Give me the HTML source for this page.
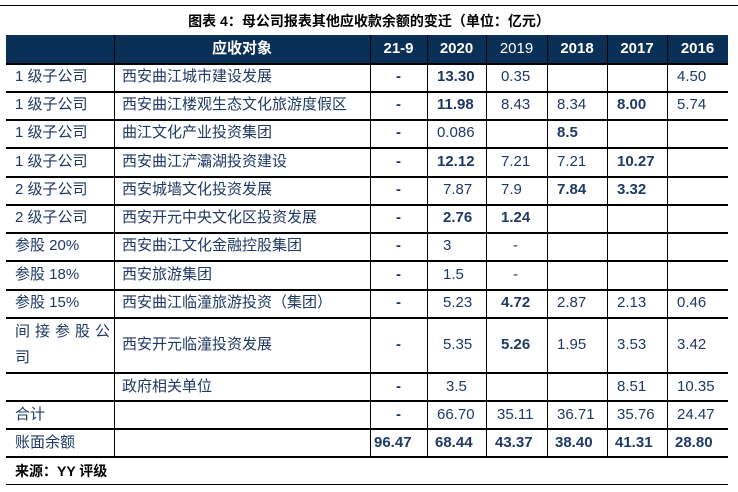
<!DOCTYPE html>
<html><head><meta charset="utf-8"><style>
body{margin:0;width:738px;height:492px;background:#fff;position:relative;overflow:hidden;font-family:"Liberation Sans","Noto Sans CJK SC",sans-serif;color:#1f3864;}
.hl{position:absolute;left:6px;width:722px;height:2px;background:#000;}
.vl{position:absolute;width:1px;background:#000;}
.t{position:absolute;font-size:15px;line-height:18px;white-space:nowrap;}
.b{font-weight:bold;}
.hdr{position:absolute;left:6px;top:35px;width:722px;height:28px;background:#0b3058;}
.h{position:absolute;top:40px;color:#fff;font-size:15px;font-weight:bold;text-align:center;line-height:18px;}
</style></head><body>
<div style="position:absolute;left:0;top:5px;width:738px;height:1px;background:#000"></div>
<div class="t b" style="left:0;width:738px;text-align:center;top:12px;color:#000;font-size:14px">图表 4：母公司报表其他应收款余额的变迁（单位：亿元）</div>
<div class="hdr"></div>
<div class="vl" style="left:114px;top:35px;height:422px"></div>
<div class="vl" style="left:370px;top:35px;height:422px"></div>
<div class="vl" style="left:427px;top:35px;height:422px"></div>
<div class="vl" style="left:486px;top:35px;height:422px"></div>
<div class="vl" style="left:547px;top:35px;height:422px"></div>
<div class="vl" style="left:607px;top:35px;height:422px"></div>
<div class="vl" style="left:667px;top:35px;height:422px"></div>
<div class="h" style="left:114px;width:256px">应收对象</div>
<div class="h" style="left:370px;width:57px">21-9</div>
<div class="h" style="left:427px;width:59px">2020</div>
<div class="h" style="left:486px;width:61px;font-weight:normal">2019</div>
<div class="h" style="left:547px;width:60px">2018</div>
<div class="h" style="left:607px;width:60px">2017</div>
<div class="h" style="left:667px;width:61px">2016</div>
<div class="hl" style="top:63px"></div>
<div class="hl" style="top:91px"></div>
<div class="hl" style="top:119px"></div>
<div class="hl" style="top:147px"></div>
<div class="hl" style="top:176px"></div>
<div class="hl" style="top:204px"></div>
<div class="hl" style="top:232px"></div>
<div class="hl" style="top:260px"></div>
<div class="hl" style="top:289px"></div>
<div class="hl" style="top:317px"></div>
<div class="hl" style="top:372px"></div>
<div class="hl" style="top:400px"></div>
<div class="hl" style="top:428px"></div>
<div class="hl" style="top:456px"></div>
<div style="position:absolute;left:6px;top:484px;width:722px;height:1px;background:#000"></div>

<div class="t" style="left:15px;top:68px">1 级子公司</div><div class="t" style="left:122px;top:68px">西安曲江城市建设发展</div><div class="t b" style="left:396px;top:68px">-</div><div class="t b" style="left:437px;top:68px">13.30</div><div class="t" style="left:501px;top:68px">0.35</div><div class="t" style="left:677px;top:68px">4.50</div>
<div class="t" style="left:15px;top:96px">1 级子公司</div><div class="t" style="left:122px;top:96px">西安曲江楼观生态文化旅游度假区</div><div class="t b" style="left:396px;top:96px">-</div><div class="t b" style="left:437px;top:96px">11.98</div><div class="t" style="left:501px;top:96px">8.43</div><div class="t" style="left:557px;top:96px">8.34</div><div class="t b" style="left:617px;top:96px">8.00</div><div class="t" style="left:677px;top:96px">5.74</div>
<div class="t" style="left:15px;top:124px">1 级子公司</div><div class="t" style="left:122px;top:124px">曲江文化产业投资集团</div><div class="t b" style="left:396px;top:124px">-</div><div class="t" style="left:437px;top:124px">0.086</div><div class="t b" style="left:557px;top:124px">8.5</div>
<div class="t" style="left:15px;top:153px">1 级子公司</div><div class="t" style="left:122px;top:153px">西安曲江浐灞湖投资建设</div><div class="t b" style="left:396px;top:153px">-</div><div class="t b" style="left:437px;top:153px">12.12</div><div class="t" style="left:501px;top:153px">7.21</div><div class="t" style="left:557px;top:153px">7.21</div><div class="t b" style="left:617px;top:153px">10.27</div>
<div class="t" style="left:15px;top:181px">2 级子公司</div><div class="t" style="left:122px;top:181px">西安城墙文化投资发展</div><div class="t b" style="left:396px;top:181px">-</div><div class="t" style="left:443px;top:181px">7.87</div><div class="t" style="left:501px;top:181px">7.9</div><div class="t b" style="left:557px;top:181px">7.84</div><div class="t b" style="left:617px;top:181px">3.32</div>
<div class="t" style="left:15px;top:209px">2 级子公司</div><div class="t" style="left:122px;top:209px">西安开元中央文化区投资发展</div><div class="t b" style="left:396px;top:209px">-</div><div class="t b" style="left:443px;top:209px">2.76</div><div class="t b" style="left:501px;top:209px">1.24</div>
<div class="t" style="left:15px;top:237px">参股 20%</div><div class="t" style="left:122px;top:237px">西安曲江文化金融控股集团</div><div class="t b" style="left:396px;top:237px">-</div><div class="t" style="left:443px;top:237px">3</div><div class="t" style="left:513px;top:237px">-</div>
<div class="t" style="left:15px;top:266px">参股 18%</div><div class="t" style="left:122px;top:266px">西安旅游集团</div><div class="t b" style="left:396px;top:266px">-</div><div class="t" style="left:443px;top:266px">1.5</div><div class="t" style="left:513px;top:266px">-</div>
<div class="t" style="left:15px;top:294px">参股 15%</div><div class="t" style="left:122px;top:294px">西安曲江临潼旅游投资（集团）</div><div class="t b" style="left:396px;top:294px">-</div><div class="t" style="left:443px;top:294px">5.23</div><div class="t b" style="left:501px;top:294px">4.72</div><div class="t" style="left:557px;top:294px">2.87</div><div class="t" style="left:617px;top:294px">2.13</div><div class="t" style="left:677px;top:294px">0.46</div>
<div class="t" style="left:15px;top:323px;letter-spacing:5px">间接参股公</div><div class="t" style="left:15px;top:349px">司</div><div class="t" style="left:122px;top:336px">西安开元临潼投资发展</div><div class="t b" style="left:396px;top:336px">-</div><div class="t" style="left:443px;top:336px">5.35</div><div class="t b" style="left:501px;top:336px">5.26</div><div class="t" style="left:557px;top:336px">1.95</div><div class="t" style="left:617px;top:336px">3.53</div><div class="t" style="left:677px;top:336px">3.42</div>
<div class="t" style="left:122px;top:378px">政府相关单位</div><div class="t b" style="left:396px;top:378px">-</div><div class="t" style="left:446px;top:378px">3.5</div><div class="t" style="left:617px;top:378px">8.51</div><div class="t" style="left:677px;top:378px">10.35</div>
<div class="t" style="left:15px;top:406px">合计</div><div class="t b" style="left:396px;top:406px">-</div><div class="t" style="left:437px;top:406px">66.70</div><div class="t" style="left:497px;top:406px">35.11</div><div class="t" style="left:557px;top:406px">36.71</div><div class="t" style="left:617px;top:406px">35.76</div><div class="t" style="left:677px;top:406px">24.47</div>
<div class="t" style="left:15px;top:434px">账面余额</div><div class="t b" style="left:374px;top:434px">96.47</div><div class="t b" style="left:435px;top:434px">68.44</div><div class="t b" style="left:495px;top:434px">43.37</div><div class="t b" style="left:555px;top:434px">38.40</div><div class="t b" style="left:615px;top:434px">41.31</div><div class="t b" style="left:675px;top:434px">28.80</div>
<div class="t b" style="left:15px;top:462px;color:#000;font-size:14px">来源：YY 评级</div>
</body></html>
